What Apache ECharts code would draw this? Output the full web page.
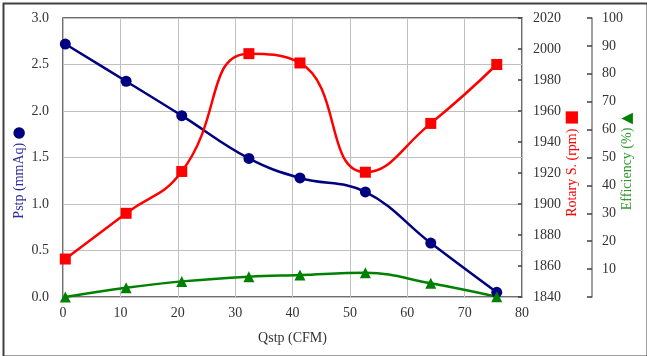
<!DOCTYPE html>
<html>
<head>
<meta charset="utf-8">
<script src="https://cdn.jsdelivr.net/npm/echarts@6/dist/echarts.min.js"></script>
<style>
html,body{margin:0;padding:0;background:#fff;overflow:hidden;}
#chart{width:647px;height:356px;}
</style>
</head>
<body>
<div id="chart"></div>
<script>
// ---- data ----
var qstp = [0.4, 11, 20.7, 32.4, 41.3, 52.7, 64.1, 75.6];
var pstp = [2.72, 2.32, 1.95, 1.49, 1.28, 1.13, 0.58, 0.05];
var rotary = [1864.5, 1894, 1921, 1997, 1991, 1920.5, 1952, 1990];
var efficiency = [0, 3.3, 5.6, 7.3, 7.9, 8.7, 4.9, 0.1];
var xTicks = [0, 10, 20, 30, 40, 50, 60, 70, 80];

function pairs(xs, ys) { return xs.map(function (x, i) { return [x, ys[i]]; }); }

var FONT = 'Liberation Serif';
var chart = echarts.init(document.getElementById('chart'), null, {renderer: 'canvas'});
chart.setOption({
  animation: false,
  backgroundColor: '#fff',
  graphic: [{
    type: 'rect', left: 1, top: 1, z: 100, silent: true,
    shape: {width: 644, height: 353},
    style: {fill: 'none', stroke: '#404040', lineWidth: 2}
  }],
  grid: {
    left: 63, right: 125, top: 18, bottom: 59,
    outerBoundsMode: 'none', containLabel: false,
    show: true, borderColor: '#404040', borderWidth: 1.5, backgroundColor: 'transparent'
  },
  xAxis: {
    type: 'value', min: xTicks[0], max: xTicks[xTicks.length - 1], interval: 10,
    name: 'Qstp (CFM)', nameLocation: 'middle', nameGap: 34, nameMoveOverlap: false,
    nameTextStyle: {fontFamily: FONT, fontSize: 14, color: '#333'},
    axisLine: {show: false}, axisTick: {show: false},
    axisLabel: {fontFamily: FONT, fontSize: 14, color: '#333', margin: 9},
    splitLine: {show: true, lineStyle: {color: '#c0c0c0', width: 1}}
  },
  yAxis: [{
    type: 'value', min: 0, max: 3, interval: 0.5, position: 'left',
    name: '{t|Pstp (mmAq)} {c|●}', nameLocation: 'middle', nameGap: 36, nameRotate: 90,
    nameMoveOverlap: false,
    nameTextStyle: {
      padding: [0, 30, 0, 0],
      rich: {
        t: {fontFamily: FONT, fontSize: 14, color: '#2b2b9a'},
        c: {fontFamily: 'DejaVu Sans', fontSize: 15, color: '#000080'}
      }
    },
    axisLine: {show: false}, axisTick: {show: false},
    axisLabel: {fontFamily: FONT, fontSize: 14, color: '#333', margin: 14,
      formatter: function (v) { return v.toFixed(1); }},
    splitLine: {show: true, lineStyle: {color: '#c0c0c0', width: 1}}
  }, {
    type: 'value', min: 1840, max: 2020, interval: 20, position: 'right',
    name: '{t|Rotary S. (rpm)} {c|■}', nameLocation: 'middle', nameGap: 42, nameRotate: 90,
    nameMoveOverlap: false,
    nameTextStyle: {
      padding: [0, 12, 0, 0],
      rich: {
        t: {fontFamily: FONT, fontSize: 14, color: '#ff0000'},
        c: {fontFamily: 'DejaVu Sans', fontSize: 16, color: '#ff0000'}
      }
    },
    axisLine: {show: false},
    axisTick: {show: true, inside: true, length: 4, lineStyle: {color: '#404040', width: 1.5}},
    axisLabel: {fontFamily: FONT, fontSize: 14, color: '#333', margin: 11,
      formatter: function (v) { return String(v); }},
    splitLine: {show: false}
  }, {
    type: 'value', min: 0, max: 100, interval: 10, position: 'right', offset: 70,
    name: '{t|Efficiency (%)} {c|▲}', nameLocation: 'middle', nameGap: 28, nameRotate: 90,
    nameMoveOverlap: false,
    nameTextStyle: {
      padding: [0, 8, 0, 0],
      rich: {
        t: {fontFamily: FONT, fontSize: 14, color: '#2e9a2e'},
        c: {fontFamily: 'DejaVu Sans', fontSize: 15, color: '#008000'}
      }
    },
    axisLine: {show: true, lineStyle: {color: '#808080', width: 1.5}},
    axisTick: {show: true, inside: true, length: 5, lineStyle: {color: '#404040', width: 1.5}},
    axisLabel: {fontFamily: FONT, fontSize: 14, color: '#333', margin: 10,
      formatter: function (v) { return v === 0 ? '' : String(v); }},
    splitLine: {show: false}
  }],
  series: [{
    type: 'line', name: 'Pstp', yAxisIndex: 0, data: pairs(qstp, pstp),
    smooth: 0.4, symbol: 'circle', symbolSize: 11, clip: false, z: 3,
    lineStyle: {color: '#000080', width: 2.5}, itemStyle: {color: '#000080'}
  }, {
    type: 'line', name: 'Rotary', yAxisIndex: 1, data: pairs(qstp, rotary),
    smooth: 0.5, symbol: 'rect', symbolSize: 11, clip: false, z: 3,
    lineStyle: {color: '#ff0000', width: 2.5}, itemStyle: {color: '#ff0000'}
  }, {
    type: 'line', name: 'Efficiency', yAxisIndex: 2, data: pairs(qstp, efficiency),
    smooth: 0.4, symbol: 'triangle', symbolSize: 11, clip: false, z: 3,
    lineStyle: {color: '#008000', width: 2.5}, itemStyle: {color: '#008000'}
  }]
});
</script>
</body>
</html>
